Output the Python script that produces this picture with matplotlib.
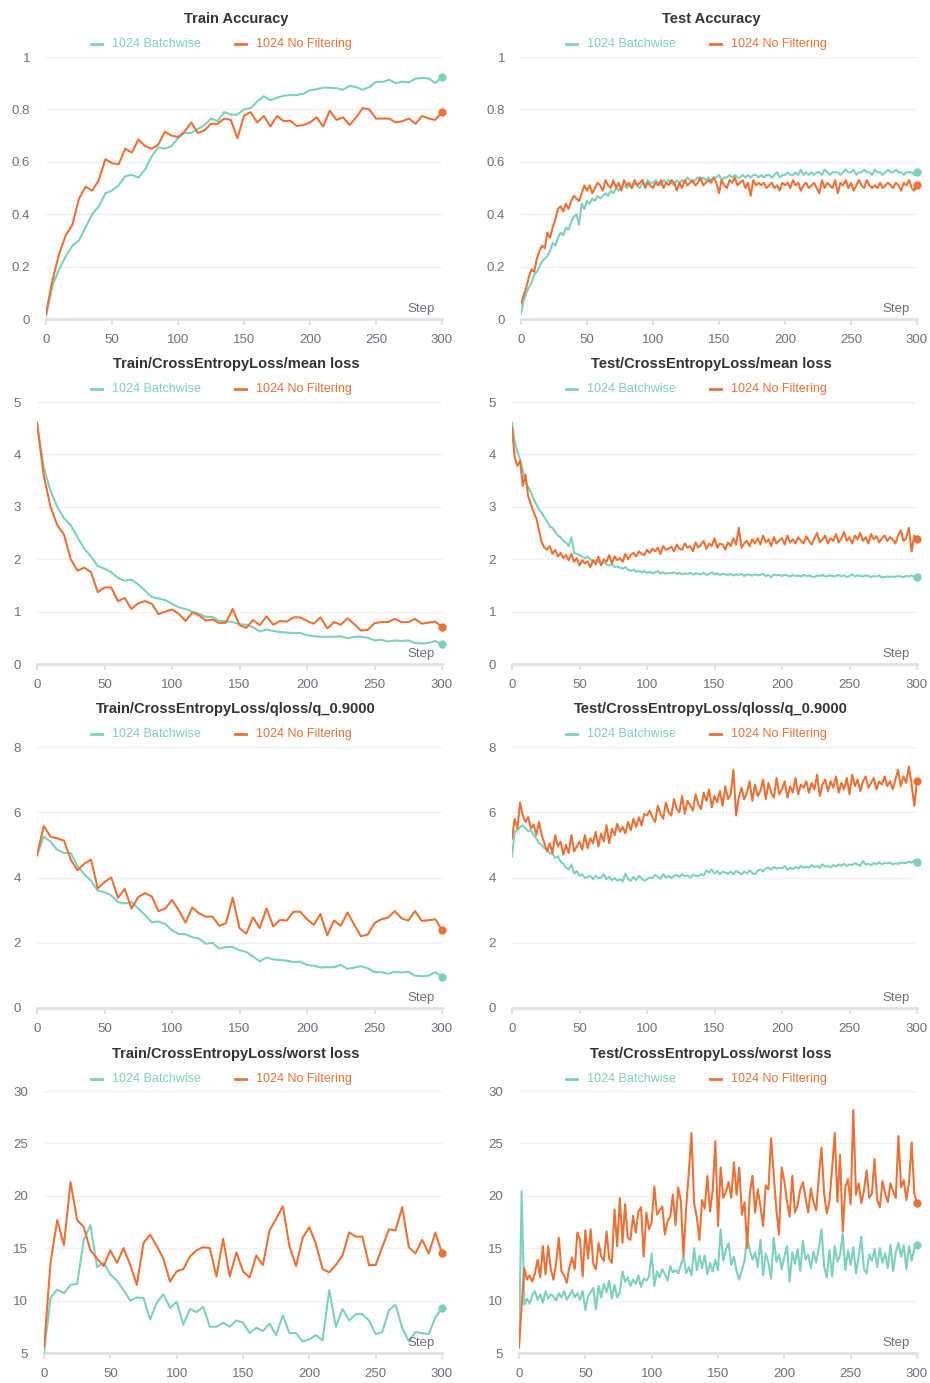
import matplotlib
matplotlib.use("Agg")
import matplotlib.pyplot as plt
from matplotlib.lines import Line2D

plt.rcParams['font.family'] = ['Liberation Sans', 'DejaVu Sans']

TEAL = '#7fd0bb'
ORANGE = '#e8733a'
GRAY = '#6e7079'

labels = ['1024 Batchwise', '1024 No Filtering']

# train metrics logged every 5 steps, test metrics read every 2 steps
train_steps = list(range(0, 301, 5))
test_steps = list(range(0, 301, 2))

train_acc_b = [0.01, 0.13, 0.19, 0.24, 0.28, 0.30, 0.35, 0.40, 0.43, 0.48, 0.49,
               0.51, 0.545, 0.55, 0.54, 0.57, 0.62, 0.655, 0.65, 0.66, 0.69,
               0.71, 0.71, 0.725, 0.74, 0.765, 0.755, 0.79, 0.78, 0.78, 0.80,
               0.805, 0.83, 0.85, 0.835, 0.845, 0.852, 0.855, 0.855, 0.86, 0.873,
               0.877, 0.883, 0.883, 0.881, 0.875, 0.89, 0.885, 0.875, 0.885, 0.905,
               0.905, 0.913, 0.90, 0.906, 0.903, 0.918, 0.92, 0.918, 0.90, 0.925]
train_acc_n = [0.02, 0.15, 0.25, 0.32, 0.36, 0.46, 0.505, 0.49, 0.53, 0.61, 0.595,
               0.59, 0.65, 0.635, 0.685, 0.66, 0.65, 0.665, 0.715, 0.70, 0.695,
               0.715, 0.75, 0.71, 0.72, 0.745, 0.745, 0.765, 0.76, 0.69, 0.775,
               0.79, 0.75, 0.775, 0.735, 0.775, 0.755, 0.757, 0.737, 0.74, 0.75,
               0.77, 0.735, 0.795, 0.76, 0.77, 0.74, 0.77, 0.805, 0.80, 0.765,
               0.765, 0.765, 0.75, 0.755, 0.765, 0.745, 0.775, 0.765, 0.76, 0.79]

test_acc_b = [0.02, 0.07, 0.10, 0.12, 0.14, 0.17, 0.18, 0.20, 0.22, 0.23,
              0.24, 0.26, 0.29, 0.28, 0.31, 0.33, 0.32, 0.35, 0.34, 0.37,
              0.39, 0.40, 0.36, 0.44, 0.42, 0.45, 0.44, 0.46, 0.45, 0.47,
              0.46, 0.47, 0.48, 0.47, 0.49, 0.48, 0.50, 0.49, 0.50, 0.51,
              0.50, 0.51, 0.50, 0.52, 0.51, 0.50, 0.52, 0.51, 0.53, 0.52,
              0.52, 0.53, 0.52, 0.51, 0.53, 0.52, 0.53, 0.52, 0.51, 0.53,
              0.52, 0.53, 0.52, 0.54, 0.53, 0.52, 0.53, 0.54, 0.53, 0.54,
              0.53, 0.54, 0.53, 0.54, 0.54, 0.55, 0.53, 0.54, 0.54, 0.55,
              0.54, 0.55, 0.54, 0.54, 0.55, 0.54, 0.55, 0.54, 0.55, 0.55,
              0.54, 0.55, 0.54, 0.55, 0.55, 0.54, 0.55, 0.56, 0.54, 0.55,
              0.55, 0.56, 0.55, 0.55, 0.56, 0.55, 0.57, 0.55, 0.56, 0.55,
              0.56, 0.55, 0.56, 0.56, 0.55, 0.57, 0.56, 0.55, 0.56, 0.56,
              0.56, 0.55, 0.56, 0.57, 0.56, 0.56, 0.57, 0.55, 0.56, 0.56,
              0.57, 0.56, 0.56, 0.55, 0.57, 0.56, 0.56, 0.55, 0.56, 0.57,
              0.56, 0.56, 0.57, 0.56, 0.56, 0.55, 0.56, 0.56, 0.56, 0.55,
              0.56]
test_acc_n = [0.06, 0.09, 0.12, 0.16, 0.19, 0.18, 0.23, 0.26, 0.28, 0.27,
              0.33, 0.31, 0.35, 0.38, 0.42, 0.43, 0.41, 0.44, 0.42, 0.45,
              0.47, 0.46, 0.45, 0.48, 0.51, 0.49, 0.51, 0.48, 0.50, 0.52,
              0.51, 0.49, 0.53, 0.51, 0.50, 0.53, 0.50, 0.52, 0.49, 0.53,
              0.51, 0.52, 0.50, 0.53, 0.51, 0.52, 0.53, 0.50, 0.52, 0.51,
              0.50, 0.52, 0.51, 0.53, 0.50, 0.52, 0.51, 0.53, 0.52, 0.49,
              0.52, 0.50, 0.53, 0.51, 0.52, 0.53, 0.51, 0.52, 0.54, 0.51,
              0.52, 0.53, 0.52, 0.54, 0.52, 0.48, 0.53, 0.51, 0.50, 0.53,
              0.52, 0.54, 0.51, 0.52, 0.53, 0.50, 0.52, 0.47, 0.53, 0.51,
              0.52, 0.51, 0.52, 0.50, 0.51, 0.52, 0.50, 0.51, 0.49, 0.52,
              0.51, 0.52, 0.50, 0.53, 0.51, 0.52, 0.49, 0.51, 0.52, 0.50,
              0.51, 0.52, 0.50, 0.48, 0.53, 0.50, 0.52, 0.51, 0.50, 0.53,
              0.48, 0.52, 0.51, 0.53, 0.50, 0.52, 0.49, 0.51, 0.53, 0.51,
              0.50, 0.53, 0.51, 0.50, 0.51, 0.50, 0.52, 0.50, 0.51, 0.52,
              0.51, 0.50, 0.52, 0.51, 0.49, 0.52, 0.51, 0.53, 0.50, 0.49,
              0.51]

train_loss_b = [4.6, 3.75, 3.3, 3.0, 2.78, 2.65, 2.42, 2.2, 2.05, 1.87, 1.82,
                1.75, 1.64, 1.59, 1.61, 1.52, 1.4, 1.28, 1.25, 1.22, 1.15,
                1.08, 1.05, 1.0, 0.96, 0.9, 0.9, 0.82, 0.82, 0.8, 0.76,
                0.75, 0.7, 0.62, 0.66, 0.63, 0.61, 0.6, 0.59, 0.59, 0.55,
                0.53, 0.52, 0.52, 0.52, 0.53, 0.49, 0.52, 0.52, 0.5, 0.45,
                0.46, 0.43, 0.45, 0.44, 0.45, 0.4, 0.39, 0.4, 0.44, 0.38]
train_loss_n = [4.6, 3.6, 3.0, 2.65, 2.47, 2.0, 1.78, 1.84, 1.75, 1.37, 1.46,
                1.46, 1.2, 1.26, 1.05, 1.16, 1.2, 1.15, 0.95, 1.0, 1.04,
                0.96, 0.82, 0.98, 0.93, 0.83, 0.85, 0.78, 0.79, 1.05, 0.74,
                0.69, 0.84, 0.74, 0.91, 0.75, 0.82, 0.81, 0.89, 0.89, 0.82,
                0.77, 0.89, 0.68, 0.8, 0.75, 0.87, 0.76, 0.64, 0.65, 0.78,
                0.8, 0.8, 0.86, 0.8, 0.8, 0.86, 0.77, 0.79, 0.81, 0.7]

test_loss_b = [4.60, 4.25, 4.05, 3.90, 3.70, 3.45, 3.38, 3.28, 3.15, 3.05,
               2.95, 2.88, 2.80, 2.72, 2.62, 2.60, 2.52, 2.45, 2.42, 2.35,
               2.32, 2.25, 2.42, 2.12, 2.10, 2.08, 2.05, 2.02, 2.05, 2.00,
               1.96, 1.98, 1.95, 1.92, 1.95, 1.90, 1.88, 1.90, 1.85, 1.86,
               1.84, 1.82, 1.85, 1.80, 1.78, 1.80, 1.76, 1.78, 1.75, 1.77,
               1.74, 1.76, 1.73, 1.75, 1.77, 1.73, 1.75, 1.72, 1.74, 1.73,
               1.75, 1.72, 1.74, 1.71, 1.73, 1.72, 1.74, 1.71, 1.73, 1.72,
               1.71, 1.74, 1.70, 1.72, 1.75, 1.71, 1.73, 1.70, 1.72, 1.71,
               1.70, 1.72, 1.69, 1.71, 1.70, 1.72, 1.68, 1.71, 1.70, 1.69,
               1.71, 1.69, 1.70, 1.72, 1.68, 1.70, 1.66, 1.71, 1.69, 1.70,
               1.68, 1.70, 1.69, 1.67, 1.70, 1.68, 1.69, 1.67, 1.70, 1.68,
               1.69, 1.67, 1.66, 1.69, 1.68, 1.70, 1.67, 1.68, 1.69, 1.67,
               1.68, 1.70, 1.67, 1.69, 1.66, 1.68, 1.71, 1.67, 1.69, 1.68,
               1.67, 1.69, 1.68, 1.66, 1.68, 1.67, 1.69, 1.65, 1.66, 1.67,
               1.66, 1.67, 1.66, 1.68, 1.67, 1.66, 1.68, 1.67, 1.69, 1.66,
               1.66]
test_loss_n = [4.50, 3.95, 3.78, 3.88, 3.40, 3.62, 3.20, 3.05, 2.90, 2.78,
               2.55, 2.32, 2.22, 2.18, 2.25, 2.10, 2.18, 2.05, 2.12, 2.02,
               2.08, 1.98, 2.10, 1.95, 2.02, 1.88, 1.98, 1.92, 1.96, 1.85,
               1.98, 1.90, 2.05, 1.88, 2.00, 1.95, 2.08, 1.92, 2.05, 1.98,
               2.02, 1.95, 2.10, 2.00, 2.08, 2.12, 2.05, 2.15, 2.10, 2.08,
               2.18, 2.12, 2.20, 2.15, 2.22, 2.10, 2.25, 2.18, 2.20, 2.24,
               2.15, 2.28, 2.20, 2.18, 2.30, 2.22, 2.25, 2.15, 2.32, 2.22,
               2.28, 2.35, 2.20, 2.30, 2.25, 2.40, 2.22, 2.30, 2.28, 2.18,
               2.32, 2.25, 2.40, 2.28, 2.60, 2.22, 2.30, 2.35, 2.25, 2.38,
               2.30, 2.40, 2.28, 2.45, 2.32, 2.38, 2.25, 2.42, 2.30, 2.36,
               2.40, 2.28, 2.45, 2.32, 2.38, 2.30, 2.42, 2.35, 2.30, 2.44,
               2.35, 2.28, 2.40, 2.50, 2.32, 2.38, 2.45, 2.30, 2.40, 2.35,
               2.48, 2.32, 2.40, 2.52, 2.35, 2.42, 2.30, 2.45, 2.38, 2.50,
               2.35, 2.42, 2.30, 2.48, 2.38, 2.44, 2.32, 2.40, 2.45, 2.35,
               2.42, 2.38, 2.30, 2.45, 2.55, 2.35, 2.40, 2.60, 2.15, 2.45,
               2.38]

train_q_b = [4.68, 5.25, 5.1, 4.85, 4.75, 4.75, 4.35, 4.1, 3.9, 3.6, 3.55,
             3.45, 3.25, 3.2, 3.25, 3.05, 2.85, 2.63, 2.65, 2.58, 2.38,
             2.27, 2.26, 2.17, 2.13, 1.97, 2.0, 1.82, 1.87, 1.87, 1.77,
             1.72, 1.58, 1.43, 1.55, 1.49, 1.47, 1.45, 1.41, 1.42, 1.32,
             1.3, 1.24, 1.25, 1.25, 1.32, 1.2, 1.24, 1.28, 1.22, 1.1,
             1.1, 1.05, 1.11, 1.09, 1.11, 0.99, 0.97, 0.99, 1.1, 0.96]
train_q_n = [4.68, 5.58, 5.25, 5.2, 5.13, 4.55, 4.22, 4.42, 4.55, 3.67, 3.86,
             4.0, 3.38, 3.65, 3.05, 3.4, 3.52, 3.42, 2.97, 3.05, 3.31,
             3.0, 2.62, 3.08, 2.9, 2.8, 2.8, 2.52, 2.6, 3.38, 2.45,
             2.28, 2.78, 2.45, 3.05, 2.5, 2.7, 2.68, 2.95, 2.95, 2.72,
             2.55, 2.88, 2.23, 2.68, 2.52, 2.93, 2.55, 2.2, 2.25, 2.6,
             2.72, 2.77, 2.97, 2.75, 2.68, 2.97, 2.67, 2.69, 2.72, 2.4]

test_q_b = [4.65, 5.40, 5.45, 5.55, 5.60, 5.50, 5.42, 5.45, 5.30, 5.20,
            5.05, 5.00, 4.90, 4.85, 4.75, 4.72, 4.60, 4.65, 4.48, 4.42,
            4.30, 4.25, 4.40, 4.12, 4.20, 4.05, 4.10, 3.98, 4.02, 4.05,
            3.95, 4.05, 3.98, 4.00, 4.10, 3.95, 4.02, 3.92, 3.98, 3.90,
            3.95, 3.88, 4.12, 3.95, 3.90, 4.02, 3.92, 4.05, 3.98, 3.90,
            3.95, 4.00, 3.98, 4.08, 4.02, 3.96, 4.10, 4.00, 4.05, 3.98,
            4.05, 4.08, 4.02, 4.10, 4.04, 4.06, 4.00, 4.08, 4.05, 4.04,
            4.10, 4.06, 4.22, 4.15, 4.25, 4.12, 4.20, 4.10, 4.18, 4.15,
            4.12, 4.18, 4.10, 4.20, 4.15, 4.10, 4.18, 4.12, 4.22, 4.14,
            4.10, 4.20, 4.25, 4.18, 4.28, 4.30, 4.25, 4.32, 4.27, 4.30,
            4.28, 4.35, 4.24, 4.30, 4.26, 4.32, 4.28, 4.35, 4.30, 4.33,
            4.30, 4.38, 4.32, 4.35, 4.30, 4.40, 4.33, 4.36, 4.31, 4.38,
            4.34, 4.40, 4.36, 4.42, 4.35, 4.40, 4.38, 4.44, 4.40, 4.36,
            4.50, 4.40, 4.42, 4.38, 4.44, 4.41, 4.46, 4.40, 4.45, 4.43,
            4.46, 4.40, 4.44, 4.42, 4.46, 4.44, 4.45, 4.48, 4.46, 4.52,
            4.47]
test_q_n = [5.20, 5.80, 5.50, 6.30, 5.90, 5.70, 5.85, 5.50, 5.62, 5.30,
            5.70, 5.30, 5.05, 4.80, 5.05, 4.75, 5.30, 4.95, 5.10, 4.70,
            5.00, 4.75, 5.30, 4.80, 4.95, 5.10, 4.85, 5.30, 4.90, 5.20,
            5.05, 5.40, 4.95, 5.35, 5.10, 5.60, 5.05, 5.50, 5.30, 5.65,
            5.40, 5.55, 5.35, 5.70, 5.45, 5.80, 5.55, 5.85, 5.60, 5.95,
            5.90, 6.05, 5.85, 5.70, 6.20, 5.95, 5.80, 6.30, 6.00, 5.90,
            6.40, 6.10, 6.00, 6.50, 5.95, 6.35, 6.20, 6.05, 6.55, 6.25,
            6.10, 6.60, 6.35, 6.70, 6.15, 6.50, 6.30, 6.65, 6.20, 6.80,
            6.40, 6.55, 7.30, 5.90, 6.45, 6.75, 6.40, 6.60, 6.95, 6.35,
            6.85, 6.50, 6.65, 7.00, 6.40, 6.90, 6.60, 6.45, 7.05, 6.55,
            6.70, 6.95, 6.45, 6.80, 6.60, 7.05, 6.55, 6.85, 6.75, 6.95,
            6.60, 6.90, 6.70, 7.15, 6.50, 6.85, 7.00, 6.65, 6.95, 6.75,
            7.10, 6.60, 6.90, 6.70, 7.05, 6.55, 7.15, 6.80, 7.00, 6.65,
            6.95, 7.10, 6.75, 6.90, 7.05, 6.70, 6.95, 6.85, 7.10, 6.80,
            6.95, 6.70, 7.00, 7.30, 6.80, 7.10, 6.90, 7.40, 6.85, 6.20,
            6.95]

train_worst_b = [5.0, 10.3, 11.05, 10.7, 11.5, 11.6, 15.8, 17.2, 13.2, 13.6, 12.5,
                 11.9, 11.0, 10.0, 10.3, 10.25, 8.2, 9.8, 10.6, 9.3, 9.9,
                 7.7, 9.2, 8.9, 9.4, 7.5, 7.5, 7.9, 7.5, 8.1, 7.9,
                 6.9, 7.4, 7.1, 7.8, 6.7, 8.6, 6.9, 6.9, 6.1, 6.3,
                 6.7, 6.2, 11.0, 7.5, 9.2, 8.1, 8.7, 8.7, 8.1, 6.8,
                 7.0, 9.1, 9.6, 7.4, 6.1, 7.0, 6.9, 6.8, 8.4, 9.3]
train_worst_n = [5.5, 13.7, 17.7, 15.3, 21.3, 17.7, 17.0, 14.8, 14.0, 13.3, 14.8,
                 13.6, 15.0, 13.4, 11.5, 15.5, 16.3, 15.2, 14.0, 11.8, 12.8,
                 13.0, 14.2, 14.8, 15.1, 15.0, 12.3, 15.9, 12.3, 14.6, 12.8,
                 12.2, 14.3, 13.4, 16.7, 17.8, 19.0, 15.2, 13.3, 16.0, 17.0,
                 15.4, 13.0, 12.7, 13.4, 14.3, 16.5, 16.1, 16.1, 13.4, 13.4,
                 15.1, 16.8, 16.7, 18.9, 15.1, 14.5, 15.8, 14.5, 16.5, 14.5]

test_worst_b = [5.7, 20.4, 9.6, 10.2, 9.7, 10.5, 10.9, 10.1, 10.6, 9.8,
                10.9, 10.2, 10.6, 10.4, 10.0, 10.7, 10.3, 10.9, 10.1, 10.5,
                11.0, 10.3, 10.7, 10.1, 10.9, 9.1, 10.4, 10.8, 11.2, 9.2,
                11.4, 10.3, 11.6, 10.8, 11.9, 10.2, 11.5, 10.3, 10.8, 12.8,
                11.8, 12.2, 11.4, 12.0, 11.6, 12.4, 11.3, 12.1, 11.9, 12.3,
                14.5, 11.4, 12.8, 12.2, 13.0, 12.5, 11.9, 13.3, 12.7, 12.9,
                12.6, 13.4, 14.2, 12.6, 13.2, 12.4, 15.0, 12.9, 14.3, 13.1,
                14.3, 12.5, 13.6, 12.8, 13.9, 12.9, 16.8, 13.8, 14.9, 15.5,
                13.4, 14.2, 12.8, 12.0, 12.9, 13.8, 16.1, 14.8, 13.9, 14.6,
                13.2, 15.8, 12.4, 14.5, 13.6, 12.1, 16.0, 13.7, 14.4, 13.0,
                14.2, 15.2, 11.8, 14.6, 13.5, 14.9, 12.8, 15.7, 13.9, 14.4,
                13.1, 14.7, 13.6, 15.0, 16.8, 13.3, 12.2, 14.8, 12.3, 15.2,
                13.7, 14.3, 16.4, 12.9, 14.8, 13.4, 15.1, 12.6, 14.2, 16.1,
                13.0, 12.6, 14.4, 13.8, 14.9, 13.2, 15.0, 13.6, 14.5, 13.1,
                15.3, 12.8, 14.6, 15.5, 14.2, 15.3, 13.0, 15.2, 13.8, 15.0,
                15.3]
test_worst_n = [5.5, 9.5, 13.1, 12.0, 12.4, 11.8, 12.6, 13.9, 12.2, 15.2,
                12.5, 15.2, 13.0, 12.0, 13.6, 16.0, 12.8, 12.4, 11.7, 13.2,
                14.1, 13.0, 16.5, 15.8, 12.3, 16.7, 14.0, 16.8, 13.5, 13.0,
                15.5, 14.2, 13.8, 16.6, 14.0, 13.6, 18.7, 15.2, 19.8, 15.5,
                19.2, 16.0, 15.8, 18.1, 16.5, 18.5, 18.9, 14.2, 18.4, 16.8,
                17.5, 20.9, 18.2, 18.6, 19.0, 16.3, 17.6, 18.0, 20.1, 17.2,
                20.8, 19.5, 14.2, 18.9, 22.2, 26.0, 19.3, 18.0, 15.8, 19.6,
                18.8, 21.9, 18.5, 20.5, 25.2, 17.1, 22.7, 19.8, 20.4, 21.3,
                19.8, 23.2, 20.1, 22.7, 18.2, 19.4, 15.0, 20.3, 21.9, 18.4,
                20.6, 19.0, 17.1, 21.0, 20.6, 25.5, 22.0, 18.7, 16.3, 22.7,
                21.4, 19.5, 18.0, 21.9, 18.4, 19.1, 20.6, 21.3, 19.8, 18.4,
                20.7, 19.4, 18.6, 21.8, 24.6, 20.2, 18.3, 19.5, 22.5, 26.0,
                19.4, 23.9, 16.6, 20.8, 21.6, 19.2, 28.2, 20.1, 21.2, 19.3,
                20.5, 22.4, 19.8, 20.2, 23.5, 19.6, 18.9, 21.4, 20.2, 19.4,
                21.2, 20.4, 19.8, 25.7, 20.8, 21.5, 19.6, 21.3, 25.1, 20.2,
                19.3]

W, H = 930, 1383
fig = plt.figure(figsize=(W / 100, H / 100), dpi=100)


def px(x, y):
    # pixel (from top-left) -> figure fraction
    return x / W, 1 - y / H


def legend_row(cx, y):
    for dx, col, lab in [(-145, TEAL, labels[0]), (-1, ORANGE, labels[1])]:
        x0, yy = px(cx + dx, y)
        x1, _ = px(cx + dx + 11, y)
        fig.add_artist(Line2D([x0, x1], [yy, yy], color=col, lw=2,
                              transform=fig.transFigure))
        tx, _ = px(cx + dx + 21, y)
        fig.text(tx, yy, lab, color=col, fontsize=9, ha='left', va='center')


def panel(title, box, cx, ty, xb, yb, xn, yn, ylim, yticks, yticklabels):
    x0, x1, ytop, ybot = box
    l, b = px(x0, ybot)
    ax = fig.add_axes([l, b, (x1 - x0) / W, (ybot - ytop) / H])
    tx, tyy = px(cx, ty)
    fig.text(tx, tyy, title, fontsize=10.5, fontweight='bold', color='#333333',
             ha='center', va='center')
    legend_row(cx, ty + 25)

    ax.plot(xb, yb, color=TEAL, lw=1.5, zorder=3)
    ax.plot(xn, yn, color=ORANGE, lw=1.5, zorder=4)
    ax.plot([xb[-1]], [yb[-1]], 'o', color=TEAL, ms=5, clip_on=False, zorder=5)
    ax.plot([xn[-1]], [yn[-1]], 'o', color=ORANGE, ms=5, clip_on=False, zorder=5)

    ax.set_xlim(0, 300)
    ax.set_ylim(*ylim)
    ax.set_xticks([0, 50, 100, 150, 200, 250, 300])
    ax.set_yticks(yticks)
    ax.set_yticklabels(yticklabels)
    for s in ['top', 'right', 'left']:
        ax.spines[s].set_visible(False)
    ax.spines['bottom'].set_color('#e0e0e0')
    ax.spines['bottom'].set_linewidth(2)
    ax.yaxis.grid(True, color='#f0f0f0', lw=1)
    ax.set_axisbelow(True)
    ax.tick_params(axis='y', length=0, pad=11.5, labelsize=9.5, labelcolor=GRAY)
    ax.tick_params(axis='x', length=4, width=1.5, color='#e0e0e0', pad=7,
                   labelsize=9.5, labelcolor=GRAY)
    ax.annotate('Step', xy=(1, 0), xycoords='axes fraction', xytext=(-5, 3),
                textcoords='offset points', ha='right', va='bottom',
                fontsize=9.5, color=GRAY)
    ax.set_facecolor('none')
    return ax


acc_ticks = [0, 0.2, 0.4, 0.6, 0.8, 1]
acc_labels = ['0', '0.2', '0.4', '0.6', '0.8', '1']

panel('Train Accuracy', (46, 442, 57, 319), 236, 19,
      train_steps, train_acc_b, train_steps, train_acc_n,
      (0, 1), acc_ticks, acc_labels)
panel('Test Accuracy', (521, 917, 57, 319), 711, 19,
      test_steps, test_acc_b, test_steps, test_acc_n,
      (0, 1), acc_ticks, acc_labels)

loss_ticks = [0, 1, 2, 3, 4, 5]
panel('Train/CrossEntropyLoss/mean loss', (37, 442, 402, 664), 236, 364,
      train_steps, train_loss_b, train_steps, train_loss_n,
      (0, 5), loss_ticks, [str(t) for t in loss_ticks])
panel('Test/CrossEntropyLoss/mean loss', (512, 917, 402, 664), 711, 364,
      test_steps, test_loss_b, test_steps, test_loss_n,
      (0, 5), loss_ticks, [str(t) for t in loss_ticks])

q_ticks = [0, 2, 4, 6, 8]
panel('Train/CrossEntropyLoss/qloss/q_0.9000', (37, 442, 747, 1008), 236, 709,
      train_steps, train_q_b, train_steps, train_q_n,
      (0, 8), q_ticks, [str(t) for t in q_ticks])
panel('Test/CrossEntropyLoss/qloss/q_0.9000', (512, 917, 747, 1008), 711, 709,
      test_steps, test_q_b, test_steps, test_q_n,
      (0, 8), q_ticks, [str(t) for t in q_ticks])

w_ticks = [5, 10, 15, 20, 25, 30]
panel('Train/CrossEntropyLoss/worst loss', (44, 442, 1091, 1353), 236, 1054,
      train_steps, train_worst_b, train_steps, train_worst_n,
      (5, 30), w_ticks, [str(t) for t in w_ticks])
panel('Test/CrossEntropyLoss/worst loss', (519, 917, 1091, 1353), 711, 1054,
      test_steps, test_worst_b, test_steps, test_worst_n,
      (5, 30), w_ticks, [str(t) for t in w_ticks])

fig.savefig('out.png', dpi=100, facecolor='white')
